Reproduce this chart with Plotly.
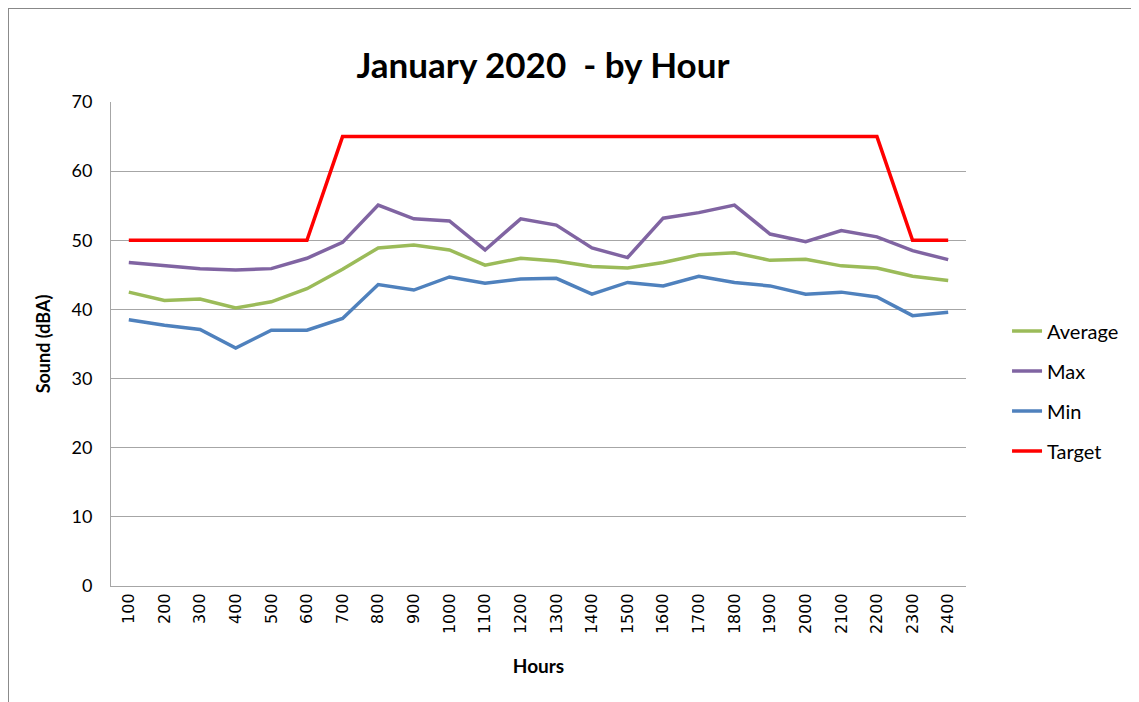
import plotly.graph_objects as go

hours = ["100", "200", "300", "400", "500", "600", "700", "800", "900", "1000", "1100", "1200",
         "1300", "1400", "1500", "1600", "1700", "1800", "1900", "2000", "2100", "2200", "2300", "2400"]
average = [42.5, 41.3, 41.5, 40.2, 41.1, 43.0, 45.8, 48.9, 49.3, 48.6, 46.4, 47.4,
           47.0, 46.2, 46.0, 46.8, 47.9, 48.2, 47.1, 47.25, 46.3, 46.0, 44.8, 44.2]
maximum = [46.8, 46.3, 45.9, 45.7, 45.9, 47.4, 49.7, 55.1, 53.1, 52.8, 48.6, 53.1,
           52.2, 48.9, 47.5, 53.2, 54.0, 55.1, 50.9, 49.8, 51.4, 50.5, 48.5, 47.2]
minimum = [38.5, 37.7, 37.1, 34.4, 37.0, 37.0, 38.7, 43.6, 42.8, 44.7, 43.8, 44.4,
           44.5, 42.2, 43.9, 43.4, 44.8, 43.9, 43.4, 42.2, 42.5, 41.8, 39.1, 39.6]
target = [50, 50, 50, 50, 50, 50, 65, 65, 65, 65, 65, 65,
          65, 65, 65, 65, 65, 65, 65, 65, 65, 65, 50, 50]

series = [("Average", average, "#9BBB59"),
          ("Max", maximum, "#8064A2"),
          ("Min", minimum, "#4F81BD"),
          ("Target", target, "#FF0000")]

fig = go.Figure()
for name, vals, color in series:
    fig.add_trace(go.Scatter(x=hours, y=vals, name=name, mode="lines",
                             legendgroup=name,
                             line=dict(color=color, width=3.5)))

fig.update_layout(
    width=1139, height=702,
    margin=dict(l=103, r=181, t=94, b=124),
    paper_bgcolor="white", plot_bgcolor="white",
    title=dict(text="<b>January 2020  - by Hour</b>", x=0.4697, xanchor="center",
               y=0.918, yanchor="middle", xref="container", yref="container",
               font=dict(family="Lato", size=35, color="black")),
    showlegend=True,
    legend=dict(x=1.048, xanchor="left", y=0.403, yanchor="middle",
                font=dict(family="Lato", size=20, color="black"),
                tracegroupgap=11, bgcolor="rgba(0,0,0,0)"),
    xaxis=dict(type="category", showgrid=False, showline=True, linecolor="#A6A6A6",
               linewidth=1, ticks="", tickangle=-90,
               tickfont=dict(family="DejaVu Sans", size=16, color="black"),
               title=dict(text="<b>Hours</b>", font=dict(family="Lato", size=19, color="black"),
                          standoff=26),
               range=[-0.5, 23.5]),
    yaxis=dict(range=[0, 70], dtick=10, showgrid=True, gridcolor="#A6A6A6", gridwidth=1,
               showline=True, linecolor="#A6A6A6", linewidth=1, ticks="",
               zeroline=False, ticklabelstandoff=14,
               tickfont=dict(family="Lato", size=18, color="black"),
               title=dict(text="<b>Sound (dBA)</b>", font=dict(family="Lato", size=18, color="black"),
                          standoff=16)),
    shapes=[dict(type="rect", xref="paper", yref="paper",
                 x0=-0.1205, x1=1.4, y0=-0.5, y1=1.194,
                 line=dict(color="#888888", width=2), fillcolor="rgba(0,0,0,0)", layer="below")],
)

fig.write_html("out.html")
